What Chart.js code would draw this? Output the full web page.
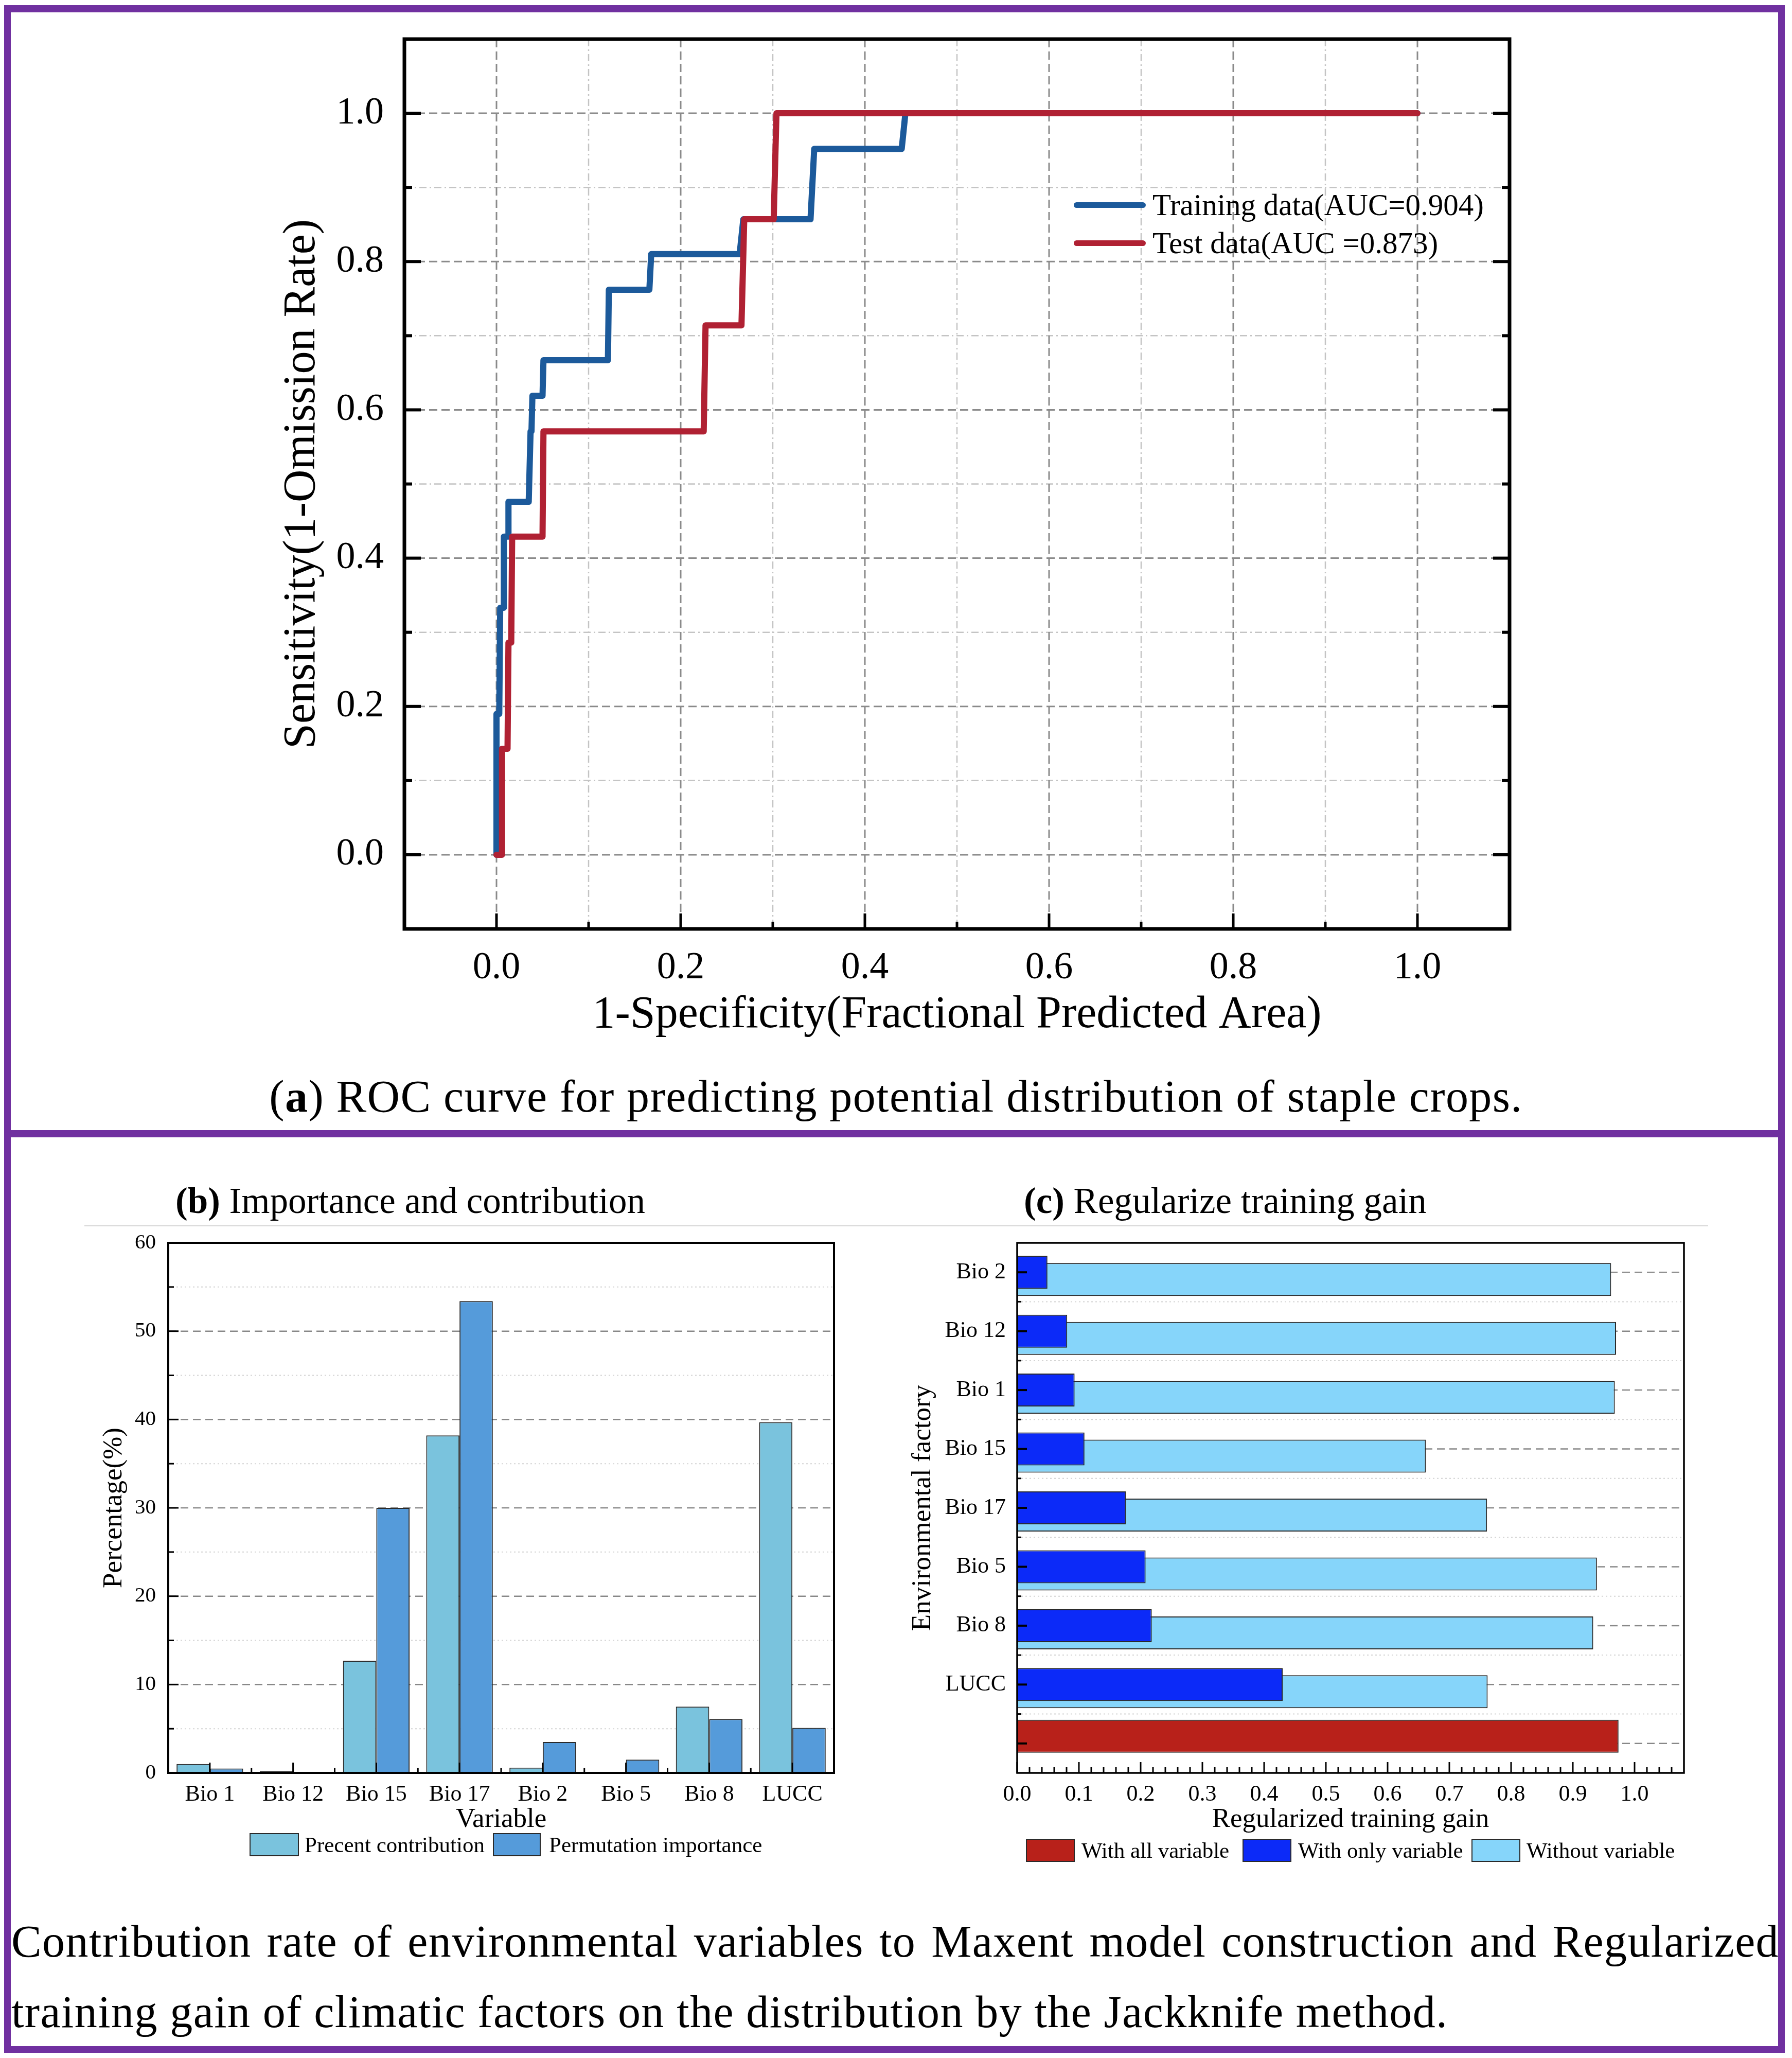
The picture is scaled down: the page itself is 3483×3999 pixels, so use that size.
<!DOCTYPE html>
<html>
<head>
<meta charset="utf-8">
<title>ROC curve and jackknife</title>
<script src="https://cdn.jsdelivr.net/npm/chart.js@4.4.1/dist/chart.umd.min.js"></script>
<style>
  html, body { margin: 0; padding: 0; background: #fff; }
  body { position: relative; width: 3483px; height: 3999px; overflow: hidden;
         font-family: 'Liberation Serif', 'Times New Roman', serif; color: #000; }
  canvas { position: absolute; }
  .rule { position: absolute; background: #7030A0; }
  .txt { position: absolute; white-space: nowrap; line-height: 1; }
  .leg { position: absolute; display: flex; align-items: center; white-space: nowrap; }
  .sw { box-sizing: border-box; border: 2px solid #2a2a2a; }
  .ln { height: 11px; border-radius: 6px; }
</style>
</head>
<body>

<canvas id="roc" width="3483" height="2065" style="left:0;top:0;width:3483px;height:2065px"></canvas>
<canvas id="imp" width="1750" height="1400" style="left:0;top:2215px;width:1750px;height:1400px"></canvas>
<canvas id="gain" width="1733" height="1400" style="left:1750px;top:2215px;width:1733px;height:1400px"></canvas>

<!-- (a) legend -->
<div class="leg" style="left:2087px;top:373px;height:50px;font-size:59px">
  <div class="ln" style="width:140px;background:#1C5A9B"></div>
  <span style="margin-left:13px">Training data(AUC=0.904)</span>
</div>
<div class="leg" style="left:2087px;top:447px;height:50px;font-size:59px">
  <div class="ln" style="width:140px;background:#B02133"></div>
  <span style="margin-left:13px">Test data(AUC =0.873)</span>
</div>

<div class="txt" style="left:0;width:3483px;text-align:center;top:2087px;font-size:88px;letter-spacing:1.4px">(<b>a</b>) ROC curve for predicting potential distribution of staple crops.</div>

<!-- panel titles (b) (c) -->
<div class="txt" style="left:341px;top:2298px;font-size:71px"><b>(b)</b> Importance and contribution</div>
<div class="txt" style="left:1990px;top:2298px;font-size:71px"><b>(c)</b> Regularize training gain</div>
<div style="position:absolute;left:164px;top:2380px;width:3156px;height:3px;background:#dcdcdc"></div>

<!-- (b) legend -->
<div class="leg" style="left:485px;top:3562px;height:45px;font-size:43px">
  <div class="sw" style="width:96px;height:45px;background:#7AC3DD"></div>
  <span style="margin-left:11px">Precent contribution</span>
</div>
<div class="leg" style="left:958px;top:3562px;height:45px;font-size:43px">
  <div class="sw" style="width:93px;height:45px;background:#559BDA"></div>
  <span style="margin-left:16px">Permutation importance</span>
</div>

<!-- (c) legend -->
<div class="leg" style="left:1994px;top:3573px;height:45px;font-size:43px">
  <div class="sw" style="width:95px;height:45px;background:#B8211A"></div>
  <span style="margin-left:13px">With all variable</span>
</div>
<div class="leg" style="left:2415px;top:3573px;height:45px;font-size:43px">
  <div class="sw" style="width:95px;height:45px;background:#0C2AF8"></div>
  <span style="margin-left:13px">With only variable</span>
</div>
<div class="leg" style="left:2860px;top:3573px;height:45px;font-size:43px">
  <div class="sw" style="width:95px;height:45px;background:#86D5FA"></div>
  <span style="margin-left:12px">Without variable</span>
</div>

<div class="txt" style="left:22px;width:3436px;top:3729px;font-size:88px;letter-spacing:1.4px;text-align:justify;text-align-last:justify">Contribution rate of environmental variables to Maxent model construction and Regularized</div>
<div class="txt" style="left:22px;top:3866px;font-size:88px;letter-spacing:1.4px">training gain of climatic factors on the distribution by the Jackknife method.</div>

<!-- purple frame -->
<div class="rule" style="left:8px;top:10px;width:3461px;height:14px"></div>
<div class="rule" style="left:8px;top:3976px;width:3461px;height:13px"></div>
<div class="rule" style="left:8px;top:10px;width:13px;height:3979px"></div>
<div class="rule" style="left:3456px;top:10px;width:13px;height:3979px"></div>
<div class="rule" style="left:8px;top:2196px;width:3461px;height:14px"></div>

<script>
// ----- Data -----
// (a) ROC step vertices (false positive fraction / sensitivity)
const trainFpr = [0, 0, 0.003, 0.004, 0.008, 0.008, 0.013, 0.013, 0.035, 0.037, 0.038, 0.039, 0.050, 0.051,
  0.121, 0.122, 0.166, 0.168, 0.264, 0.268, 0.341, 0.345, 0.440, 0.444, 1.0];
const trainTpr = [0, 0.190, 0.190, 0.333, 0.333, 0.429, 0.429, 0.476, 0.476, 0.571, 0.571, 0.619, 0.619, 0.667,
  0.667, 0.762, 0.762, 0.810, 0.810, 0.857, 0.857, 0.952, 0.952, 1.0, 1.0];
const testFpr = [0, 0.006, 0.006, 0.012, 0.013, 0.016, 0.017, 0.050, 0.051, 0.225, 0.227, 0.266, 0.269, 0.301, 0.304, 1.0];
const testTpr = [0, 0, 0.143, 0.143, 0.286, 0.286, 0.429, 0.429, 0.571, 0.571, 0.714, 0.714, 0.857, 0.857, 1.0, 1.0];
const rocMajor = [0, 0.2, 0.4, 0.6, 0.8, 1.0];
const rocMinor = [0.1, 0.3, 0.5, 0.7, 0.9];

// (b) importance and contribution (%)
const impVars = ['Bio 1', 'Bio 12', 'Bio 15', 'Bio 17', 'Bio 2', 'Bio 5', 'Bio 8', 'LUCC'];
const pctContribution = [1.0, 0.2, 12.7, 38.2, 0.6, 0, 7.5, 39.7];
const permImportance = [0.5, 0, 30.0, 53.4, 3.5, 1.5, 6.1, 5.1];
const impMajor = [10, 20, 30, 40, 50];
const impMinor = [5, 15, 25, 35, 45, 55];
const impTickVals = [0, 10, 20, 30, 40, 50, 60];

// (c) jackknife regularized training gain
const gainVars = ['Bio 2', 'Bio 12', 'Bio 1', 'Bio 15', 'Bio 17', 'Bio 5', 'Bio 8', 'LUCC', ''];
const withAllVar = [null, null, null, null, null, null, null, null, 0.974];
const withOnlyVar = [0.049, 0.081, 0.093, 0.109, 0.176, 0.208, 0.218, 0.430, null];
const withoutVar = [0.962, 0.970, 0.968, 0.662, 0.761, 0.939, 0.933, 0.762, null];
const gainTicks = [0, 0.1, 0.2, 0.3, 0.4, 0.5, 0.6, 0.7, 0.8, 0.9, 1.0];

const SERIF = "'Liberation Serif', 'Times New Roman', serif";
Chart.defaults.font.family = SERIF;
Chart.defaults.color = '#000';

// ----- grid lines under the data, inward ticks + frame over it -----
function decor(cfg) {
  return {
    id: 'decor',
    beforeDatasetsDraw(chart) {
      const ctx = chart.ctx, a = chart.chartArea;
      ctx.save();
      ctx.beginPath();
      ctx.rect(a.left, a.top, a.right - a.left, a.bottom - a.top);
      ctx.clip();
      (cfg.grid || []).forEach(g => {
        const s = chart.scales[g.axis];
        ctx.strokeStyle = g.color;
        ctx.lineWidth = g.width;
        ctx.setLineDash(g.dash || []);
        g.values.forEach(v => {
          const p = s.getPixelForValue(v);
          ctx.beginPath();
          if (s.isHorizontal()) { ctx.moveTo(p, a.top); ctx.lineTo(p, a.bottom); }
          else { ctx.moveTo(a.left, p); ctx.lineTo(a.right, p); }
          ctx.stroke();
        });
      });
      ctx.restore();
    },
    afterDatasetsDraw(chart) {
      const ctx = chart.ctx, a = chart.chartArea;
      ctx.save();
      ctx.strokeStyle = '#000';
      ctx.setLineDash([]);
      (cfg.ticks || []).forEach(t => {
        const s = chart.scales[t.axis];
        ctx.lineWidth = t.width;
        t.values.forEach(v => {
          const p = s.getPixelForValue(v);
          ctx.beginPath();
          if (t.side === 'bottom') { ctx.moveTo(p, a.bottom); ctx.lineTo(p, a.bottom - t.len); }
          else if (t.side === 'left') { ctx.moveTo(a.left, p); ctx.lineTo(a.left + t.len, p); }
          else { ctx.moveTo(a.right, p); ctx.lineTo(a.right - t.len, p); }
          ctx.stroke();
        });
      });
      ctx.lineWidth = cfg.frame;
      ctx.strokeRect(a.left, a.top, a.right - a.left, a.bottom - a.top);
      ctx.restore();
    }
  };
}

const baseOpts = {
  responsive: false,
  devicePixelRatio: 1,
  animation: false,
  events: [],
  plugins: { legend: { display: false }, tooltip: { enabled: false } }
};

// ----- (a) ROC -----
new Chart(document.getElementById('roc'), {
  type: 'line',
  data: {
    datasets: [
      { label: 'Test data(AUC =0.873)', data: testFpr.map((x, i) => ({ x, y: testTpr[i] })), borderColor: '#B02133' },
      { label: 'Training data(AUC=0.904)', data: trainFpr.map((x, i) => ({ x, y: trainTpr[i] })), borderColor: '#1C5A9B' }
    ]
  },
  options: {
    ...baseOpts,
    layout: { padding: { left: 0, top: 76, right: 549, bottom: 0 } },
    elements: {
      line: { borderWidth: 12, tension: 0, borderCapStyle: 'round', borderJoinStyle: 'round', fill: false },
      point: { radius: 0 }
    },
    scales: {
      x: {
        type: 'linear', min: -0.1, max: 1.1,
        afterBuildTicks: s => { s.ticks = rocMajor.map(v => ({ value: v })); },
        afterFit: s => { s.height = 260; },
        grid: { display: false, drawTicks: false }, border: { display: false },
        ticks: { font: { size: 74 }, padding: 32, maxRotation: 0, autoSkip: false, callback: v => v.toFixed(1) },
        title: { display: true, text: '1-Specificity(Fractional Predicted Area)', font: { size: 88 }, padding: { top: 0, bottom: 39 } }
      },
      y: {
        type: 'linear', min: -0.1, max: 1.1,
        afterBuildTicks: s => { s.ticks = rocMajor.map(v => ({ value: v })); },
        afterFit: s => { s.width = 786; s.paddingTop = 0; s.paddingBottom = 0; },
        grid: { display: false, drawTicks: false }, border: { display: false },
        ticks: { font: { size: 74 }, padding: 40, autoSkip: false, callback: v => v.toFixed(1) },
        title: { display: true, text: 'Sensitivity(1-Omission Rate)', font: { size: 88 }, padding: { top: 535, bottom: 0 } }
      }
    }
  },
  plugins: [decor({
    frame: 7,
    grid: [
      { axis: 'x', values: rocMinor, color: '#c4c4c4', width: 2.5, dash: [14, 6, 3, 6] },
      { axis: 'y', values: rocMinor, color: '#c4c4c4', width: 2.5, dash: [14, 6, 3, 6] },
      { axis: 'x', values: rocMajor, color: '#8a8a8a', width: 3, dash: [16, 8] },
      { axis: 'y', values: rocMajor, color: '#8a8a8a', width: 3, dash: [16, 8] }
    ],
    ticks: [
      { axis: 'y', side: 'left', values: rocMajor, len: 32, width: 6 },
      { axis: 'y', side: 'left', values: rocMinor, len: 15, width: 6 },
      { axis: 'y', side: 'right', values: rocMajor, len: 32, width: 6 },
      { axis: 'y', side: 'right', values: rocMinor, len: 15, width: 6 },
      { axis: 'x', side: 'bottom', values: rocMajor, len: 30, width: 5 },
      { axis: 'x', side: 'bottom', values: rocMinor, len: 14, width: 5 }
    ]
  })]
});

// ----- (b) importance and contribution -----
new Chart(document.getElementById('imp'), {
  type: 'bar',
  data: {
    labels: impVars,
    datasets: [
      { label: 'Precent contribution', data: pctContribution, backgroundColor: '#7AC3DD' },
      { label: 'Permutation importance', data: permImportance, backgroundColor: '#559BDA' }
    ]
  },
  options: {
    ...baseOpts,
    layout: { padding: { left: 0, top: 200, right: 129, bottom: 0 } },
    datasets: { bar: { categoryPercentage: 0.8, barPercentage: 1.0, borderWidth: 2, borderColor: '#2a2a2a' } },
    scales: {
      x: {
        afterFit: s => { s.height = 170; },
        grid: { display: false, drawTicks: false }, border: { display: false },
        ticks: { font: { size: 44 }, padding: 16, maxRotation: 0, autoSkip: false },
        title: { display: true, text: 'Variable', font: { size: 53 }, padding: { top: 0, bottom: 47 } }
      },
      y: {
        min: 0, max: 60,
        afterBuildTicks: s => { s.ticks = impTickVals.map(v => ({ value: v })); },
        afterFit: s => { s.width = 327; },
        grid: { display: false, drawTicks: false }, border: { display: false },
        ticks: { font: { size: 41 }, padding: 24 },
        title: { display: true, text: 'Percentage(%)', font: { size: 53 }, padding: { top: 190, bottom: 0 } }
      }
    }
  },
  plugins: [decor({
    frame: 4,
    grid: [
      { axis: 'y', values: impMinor, color: '#d4d4d4', width: 2, dash: [3, 5] },
      { axis: 'y', values: impMajor, color: '#888', width: 2.5, dash: [15, 9] }
    ],
    ticks: [
      { axis: 'y', side: 'left', values: impTickVals, len: 20, width: 3 },
      { axis: 'y', side: 'left', values: impMinor, len: 11, width: 3 },
      { axis: 'x', side: 'bottom', values: impVars.map((v, i) => i), len: 20, width: 3 },
      { axis: 'x', side: 'bottom', values: impVars.slice(1).map((v, i) => i + 0.5), len: 10, width: 3 }
    ]
  })]
});

// ----- (c) regularized training gain -----
const gainMinor = [];
for (let v = 0.02; v < 1.07; v += 0.02) {
  if (Math.abs(v * 10 - Math.round(v * 10)) > 0.01) gainMinor.push(v);
}

new Chart(document.getElementById('gain'), {
  type: 'bar',
  data: {
    labels: gainVars,
    datasets: [
      { label: 'With all variable', data: withAllVar, backgroundColor: '#B8211A', stack: 'all' },
      { label: 'With only variable', data: withOnlyVar, backgroundColor: '#0C2AF8', stack: 'only' },
      { label: 'Without variable', data: withoutVar, backgroundColor: '#86D5FA', stack: 'without' }
    ]
  },
  options: {
    ...baseOpts,
    indexAxis: 'y',
    layout: { padding: { left: 0, top: 200, right: 210, bottom: 0 } },
    datasets: { bar: { categoryPercentage: 0.367, barPercentage: 4.57, borderWidth: 2, borderColor: '#2a2a2a' } },
    scales: {
      x: {
        min: 0, max: 1.08,
        afterBuildTicks: s => { s.ticks = gainTicks.map(v => ({ value: v })); },
        afterFit: s => { s.height = 170; },
        grid: { display: false, drawTicks: false }, border: { display: false },
        ticks: { font: { size: 44 }, padding: 16, maxRotation: 0, autoSkip: false, callback: v => v.toFixed(1) },
        title: { display: true, text: 'Regularized training gain', font: { size: 53 }, padding: { top: 0, bottom: 47 } }
      },
      y: {
        afterFit: s => { s.width = 227; },
        grid: { display: false, drawTicks: false }, border: { display: false },
        ticks: { font: { size: 44 }, padding: 22, autoSkip: false },
        title: { display: true, text: 'Environmental factory', font: { size: 53 }, padding: { top: 12, bottom: 0 } }
      }
    }
  },
  plugins: [decor({
    frame: 3.5,
    grid: [
      { axis: 'y', values: gainVars.slice(1).map((v, i) => i + 0.5), color: '#d4d4d4', width: 2, dash: [3, 5] },
      { axis: 'y', values: gainVars.map((v, i) => i), color: '#888', width: 2.5, dash: [15, 9] }
    ],
    ticks: [
      { axis: 'y', side: 'left', values: gainVars.map((v, i) => i), len: 19, width: 4 },
      { axis: 'y', side: 'left', values: gainVars.slice(1).map((v, i) => i + 0.5), len: 8, width: 3 },
      { axis: 'x', side: 'bottom', values: gainTicks, len: 21, width: 3 },
      { axis: 'x', side: 'bottom', values: gainMinor, len: 11, width: 3 }
    ]
  })]
});
</script>
</body>
</html>
